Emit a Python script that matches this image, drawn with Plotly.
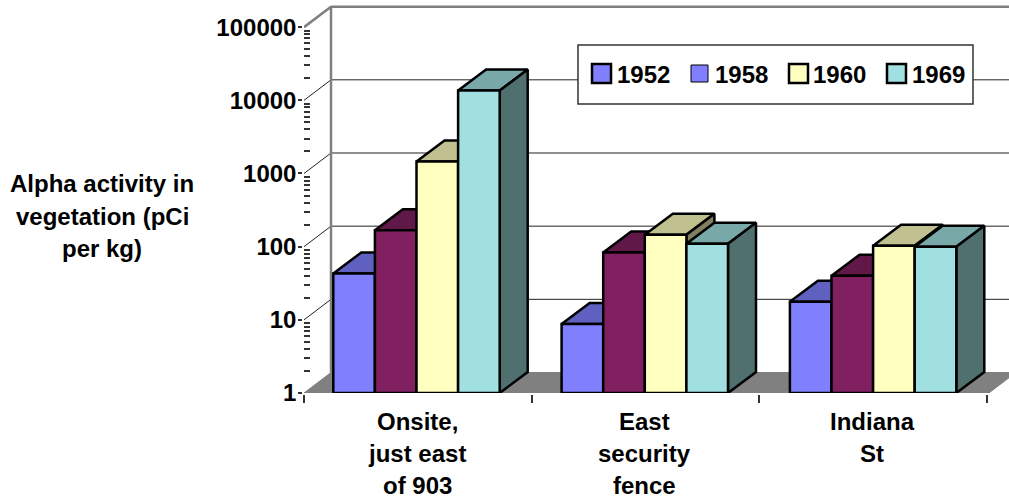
import plotly.graph_objects as go

# Measurements read per location and year (pCi per kg, log scale)
locations = [["Onsite,", "just east", "of 903"], ["East", "security", "fence"], ["Indiana", "St"]]
years = ["1952", "1958", "1960", "1969"]
values_1952 = [43, 8.8, 17.6]
values_1958 = [167, 83, 40]
values_1960 = [1460, 146, 103]
values_1969 = [13600, 110, 100]
series = [values_1952, values_1958, values_1960, values_1969]

front_colors = ["#8080FF", "#802060", "#FFFFC0", "#A0E0E0"]
top_colors = ["#6060C0", "#601848", "#C0C090", "#78A8A8"]
side_colors = ["#404080", "#401030", "#808060", "#507070"]
legend_colors = ["#8080FF", "#8080FF", "#FFFFC0", "#A0E0E0"]
legend_line = [2.5, 1, 2.5, 2.5]

tick_values = [1, 10, 100, 1000, 10000, 100000]
minor_values = [m * 10 ** d for d in range(5) for m in range(2, 10)]
category_ticks = [0, 0.9965, 1.993, 2.99]

FONT = "Liberation Sans"
TEXT_SIZE = 24
W, H = 1009, 497
LEFT, BOTTOM = 304, 104
PX_PER_CATEGORY = 228.3
PX_PER_DECADE = 73.17

# Oblique projection used for the fake depth of bars and walls
WALL_DX, BAR_DX = 27 / PX_PER_CATEGORY, 28 / PX_PER_CATEGORY
BAR_DEPTH_FACTOR = 10 ** (21 / PX_PER_DECADE)
WALL_DEPTH_FACTOR = 10 ** (20.5 / PX_PER_DECADE)
BAR_W = 41.6 / PX_PER_CATEGORY
BAR_START = 29.3 / PX_PER_CATEGORY

x_max = (W - LEFT) / PX_PER_CATEGORY
y_top_decades = (H - BOTTOM) / PX_PER_DECADE
grid_color = "#808080"

fig = go.Figure()


def poly(xs, ys, fill=None, line="black", width=2.5, z=0):
    fig.add_trace(go.Scatter(
        x=xs, y=ys, mode="lines", fill="toself" if fill else None,
        fillcolor=fill, line=dict(color=line, width=width), zorder=z,
        hoverinfo="skip", showlegend=False,
    ))


# Floor and walls
far = 3 + WALL_DX
poly([0, WALL_DX, far, 3, 0], [1, WALL_DEPTH_FACTOR, WALL_DEPTH_FACTOR, 1, 1],
     fill=grid_color, line=grid_color, width=1, z=-3)
for v in tick_values[1:-1]:
    poly([0, WALL_DX, x_max], [v, v * WALL_DEPTH_FACTOR, v * WALL_DEPTH_FACTOR],
         line="#222222", width=1, z=-2)
poly([0, WALL_DX, WALL_DX], [1e5, 1e5 * WALL_DEPTH_FACTOR, WALL_DEPTH_FACTOR],
     line=grid_color, width=2.5, z=-1)
poly([WALL_DX, x_max], [1e5 * WALL_DEPTH_FACTOR, 1e5 * WALL_DEPTH_FACTOR],
     line=grid_color, width=2.5, z=-1)

# Bars: top and side faces first, then the front face, left to right
z = 0
for g in range(len(locations)):
    for s, vals in enumerate(series):
        v = vals[g]
        x0 = g + BAR_START + s * BAR_W
        x1 = x0 + BAR_W
        poly([x0, x1, x1 + BAR_DX, x0 + BAR_DX, x0],
             [v, v, v * BAR_DEPTH_FACTOR, v * BAR_DEPTH_FACTOR, v], fill=top_colors[s], z=z)
        poly([x1, x1 + BAR_DX, x1 + BAR_DX, x1, x1],
             [v, v * BAR_DEPTH_FACTOR, BAR_DEPTH_FACTOR, 1, v], fill=side_colors[s], z=z)
        fig.add_trace(go.Bar(
            x=[x0 + BAR_W / 2], y=[v - 1], base=[1], width=[BAR_W],
            marker=dict(color=front_colors[s], line=dict(color="black", width=2.5)),
            cliponaxis=False, zorder=z + 1, showlegend=False, name=years[s],
        ))
        z += 2


def px_x(px):
    return (px - LEFT) / (W - LEFT)


def px_y(py):
    return 1 - py / (H - BOTTOM)


annotations = []
shapes = []


def text(s, cx, cy, anchor="center"):
    annotations.append(dict(
        text=s, x=px_x(cx), y=px_y(cy), xref="paper", yref="paper",
        xanchor=anchor, yanchor="middle", showarrow=False,
        font=dict(family=FONT, size=TEXT_SIZE, color="black", weight=700),
    ))


# Legend box and keys
shapes.append(dict(type="rect", xref="paper", yref="paper", x0=px_x(578), x1=px_x(973),
                   y0=px_y(45), y1=px_y(104), fillcolor="white", line=dict(color="#333333", width=1.5)))
key_lefts = [592, 691, 789, 887]
label_lefts = [615, 713, 811, 910]
key_sizes = [19, 17, 19, 19]
for i, yr in enumerate(years):
    top = 73.5 - key_sizes[i] / 2
    shapes.append(dict(type="rect", xref="paper", yref="paper",
                       x0=px_x(key_lefts[i]), x1=px_x(key_lefts[i] + key_sizes[i]),
                       y0=px_y(top), y1=px_y(top + key_sizes[i]),
                       fillcolor=legend_colors[i], line=dict(color="black", width=legend_line[i])))
    text(yr, label_lefts[i], 74.5, "left")

# Vertical axis title
for line, cy in zip(["Alpha activity in", "vegetation (pCi", "per kg)"], [183, 216, 249]):
    text(line, 102.5, cy)

# Category labels under the floor
for g, lines in enumerate(locations):
    for j, line in enumerate(lines):
        text(line, 417 + g * 227.7, 421 + j * 32)

fig.update_layout(
    width=W, height=H, margin=dict(l=LEFT, r=0, t=0, b=BOTTOM, pad=0),
    paper_bgcolor="white", plot_bgcolor="white", barmode="overlay", showlegend=False,
    annotations=annotations, shapes=shapes,
    font=dict(family=FONT, size=TEXT_SIZE, color="black", weight=700),
    xaxis=dict(
        range=[0, x_max], showgrid=False, zeroline=False, showticklabels=False,
        showline=True, linecolor="#333333", linewidth=1.5,
        tickvals=category_ticks, ticks="outside", ticklen=8, tickwidth=1.5, tickcolor="#333333",
    ),
    yaxis=dict(
        type="log", range=[0, y_top_decades], showgrid=False, zeroline=False,
        showline=True, linecolor="#333333", linewidth=1.5,
        tickvals=tick_values, ticktext=[str(v) for v in tick_values],
        ticks="outside", ticklen=4, tickwidth=1.5, tickcolor="#333333", ticklabelstandoff=-3,
        tickfont=dict(family=FONT, size=TEXT_SIZE, color="black", weight=700),
        minor=dict(tickvals=minor_values, ticks="inside", ticklen=6, tickwidth=1.5,
                   tickcolor="#333333", showgrid=False),
    ),
)

fig.write_html("out.html", config={"displayModeBar": False})
